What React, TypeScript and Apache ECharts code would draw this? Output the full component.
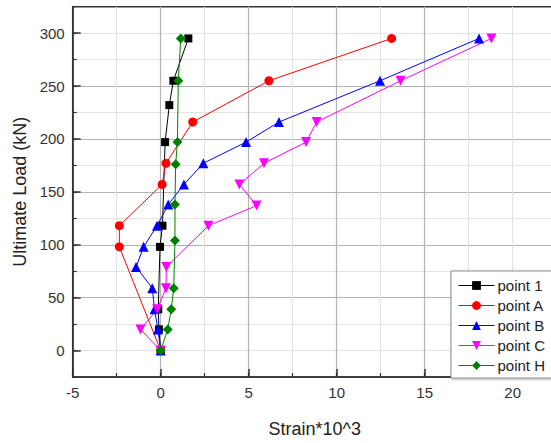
import React, { useEffect, useRef } from "react";
import * as echarts from "echarts";

const seriesNames = ["point 1", "point A", "point B", "point C", "point H"];

const point1X = [0, -0.1, -0.14, -0.04, 0.1, 0.25, 0.49, 0.72, 1.57];
const point1Y = [0, 20, 39, 98, 118, 197, 232, 255, 295];

const pointAX = [0, -2.35, -2.35, 0.08, 0.3, 1.82, 6.15, 13.12];
const pointAY = [0, 98, 118, 157, 177, 216, 255, 295];

const pointBX = [0, -0.16, -0.35, -0.48, -1.4, -0.97, -0.21, 0.43, 1.32, 2.42, 4.85, 6.72, 12.46, 18.09];
const pointBY = [0, 20, 39, 59, 79, 98, 118, 138, 157, 177, 197, 216, 255, 295];

const pointCX = [0, -1.15, -0.2, 0.3, 0.32, 2.71, 5.45, 4.47, 5.87, 8.26, 8.86, 13.63, 18.79];
const pointCY = [0, 20, 39, 59, 79, 118, 137, 157, 177, 197, 216, 255, 295];

const pointHX = [0, 0.4, 0.6, 0.74, 0.81, 0.81, 0.85, 0.95, 1.0, 1.14];
const pointHY = [0, 20, 39, 59, 104, 138, 176, 197, 255, 295];

const yTickLabels = [0, 50, 100, 150, 200, 250, 300];
const xTickLabels = [-5, 0, 5, 10, 15, 20];

const FONT = "'Liberation Sans', Arial, sans-serif";

const zip = (xs: number[], ys: number[]) => xs.map((x, i) => [x, ys[i]]);

export default function App() {
  const ref = useRef<HTMLDivElement>(null);
  useEffect(() => {
    if (!ref.current) return;
    const chart = echarts.init(ref.current, undefined, { renderer: "svg" });
    const mk = (
      name: string,
      data: number[][],
      color: string,
      symbol: string,
      size: number,
      rotate = 0
    ) => ({
      name,
      type: "line",
      data,
      symbol,
      symbolSize: size,
      symbolRotate: rotate,
      showSymbol: true,
      itemStyle: { color },
      lineStyle: { color, width: 1 },
      emphasis: { disabled: true },
    });
    chart.setOption({
      animation: false,
      textStyle: { fontFamily: FONT },
      grid: {
        left: 72.7,
        top: 6.7,
        width: 484,
        height: 374,
        show: true,
        borderColor: "#333",
        borderWidth: 1.5,
        backgroundColor: "#fff",
      },
      legend: {
        orient: "vertical",
        left: 451,
        top: 271,
        data: seriesNames,
        itemWidth: 36,
        itemHeight: 11,
        itemGap: 5,
        padding: [7, 7, 5, 7],
        backgroundColor: "#fff",
        borderColor: "#8c8c8c",
        borderWidth: 1,
        shadowBlur: 3,
        shadowColor: "rgba(0,0,0,0.3)",
        shadowOffsetX: 1,
        shadowOffsetY: 1,
        lineStyle: { width: 1 },
        textStyle: { fontSize: 15, color: "#222", fontFamily: FONT, padding: [0, 0, 0, -2] },
      },
      xAxis: [
        {
          type: "value",
          min: -5,
          max: 22.5,
          interval: 2.5,
          position: "bottom",
          axisLine: { show: false, onZero: false },
          axisTick: { show: true, inside: true, length: 4, lineStyle: { color: "#333", width: 1.2 } },
          axisLabel: { show: false },
          splitLine: { show: true, showMinLine: false, showMaxLine: false, lineStyle: { color: "#e3e3e3", width: 1 } },
        },
        {
          type: "value",
          min: -5,
          max: 22.5,
          position: "bottom",
          axisLine: { show: true, onZero: false, lineStyle: { color: "#333", width: 1.5 } },
          axisTick: { show: true, inside: true, length: 8, customValues: xTickLabels, lineStyle: { color: "#333", width: 1.5 } },
          axisLabel: { customValues: xTickLabels, fontSize: 15, color: "#333", margin: 8, fontFamily: FONT },
          splitLine: { show: true, showMinLine: false, showMaxLine: false, lineStyle: { color: "#b4b4b4", width: 1.2 } },
          name: "Strain*10^3",
          nameLocation: "middle",
          nameGap: 43,
          nameTextStyle: { fontSize: 18, color: "#222", fontFamily: FONT },
        },
      ],
      yAxis: [
        {
          type: "value",
          min: -25,
          max: 325,
          interval: 25,
          position: "left",
          axisLine: { show: false, onZero: false },
          axisTick: { show: true, inside: true, length: 4, lineStyle: { color: "#333", width: 1.2 } },
          axisLabel: { show: false },
          splitLine: { show: true, showMinLine: false, showMaxLine: false, lineStyle: { color: "#e3e3e3", width: 1 } },
        },
        {
          type: "value",
          min: -25,
          max: 325,
          splitNumber: 7,
          position: "left",
          axisLine: { show: true, onZero: false, lineStyle: { color: "#333", width: 1.5 } },
          axisTick: { show: true, inside: true, length: 8, customValues: yTickLabels, lineStyle: { color: "#333", width: 1.5 } },
          axisLabel: { customValues: yTickLabels, fontSize: 15, color: "#333", margin: 8, fontFamily: FONT },
          splitLine: { show: true, showMinLine: false, showMaxLine: false, lineStyle: { color: "#b4b4b4", width: 1.2 } },
          name: "Ultimate Load (kN)",
          nameLocation: "middle",
          nameGap: 42,
          nameTextStyle: { fontSize: 18, color: "#222", fontFamily: FONT },
        },
      ],
      series: [
        mk("point 1", zip(point1X, point1Y), "#000000", "rect", 8),
        mk("point A", zip(pointAX, pointAY), "#ff0000", "circle", 9),
        mk("point B", zip(pointBX, pointBY), "#0000ff", "triangle", 10),
        mk("point C", zip(pointCX, pointCY), "#ff00ff", "triangle", 10, 180),
        mk("point H", zip(pointHX, pointHY), "#008000", "diamond", 10),
      ],
    });
    return () => chart.dispose();
  }, []);
  return (
    <div
      style={{
        position: "fixed",
        left: 0,
        top: 0,
        width: 551,
        height: 443,
        overflow: "hidden",
        background: "#fff",
      }}
    >
      <div ref={ref} style={{ width: 560, height: 443 }} />
    </div>
  );
}
